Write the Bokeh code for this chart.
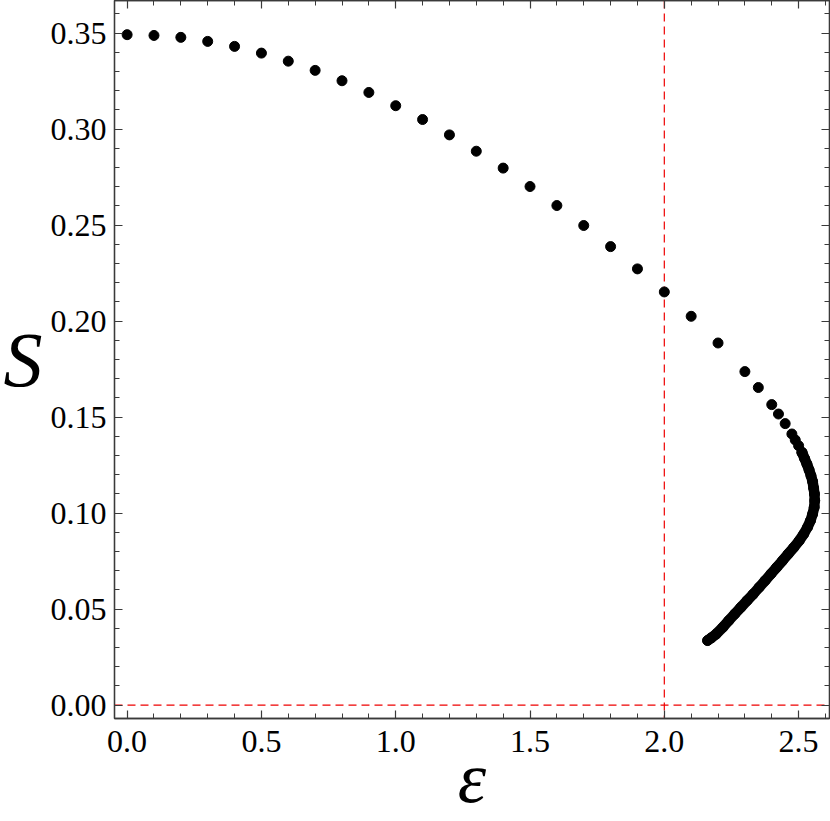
from bokeh.plotting import figure
from bokeh.models import Range1d, LinearAxis, SingleIntervalTicker, Span, NumeralTickFormatter
from bokeh.embed import file_html
from bokeh.resources import INLINE

# sparse branch (epsilon, S)
eps_sparse = [0.0, 0.1, 0.2, 0.3, 0.4, 0.5, 0.6, 0.7, 0.8, 0.9, 1.0,
              1.1, 1.2, 1.3, 1.4, 1.5, 1.6, 1.7, 1.8, 1.9, 2.0,
              2.1, 2.2, 2.3, 2.35, 2.4, 2.425, 2.45, 2.475, 2.4875, 2.5, 2.5125]
S_sparse = [0.3492, 0.3488, 0.3478, 0.3457, 0.3431, 0.3396, 0.3354, 0.3306, 0.3252, 0.3191, 0.3122,
            0.3050, 0.2970, 0.2885, 0.2797, 0.2701, 0.2602, 0.2498, 0.2388, 0.2272, 0.2152,
            0.2025, 0.1886, 0.1737, 0.1654, 0.1565, 0.1516, 0.1466, 0.1412, 0.1381, 0.1351, 0.1316]

# dense branch (band of closely spaced points)
eps_dense = [2.5125, 2.522, 2.531, 2.539, 2.546, 2.552, 2.556, 2.559, 2.560, 2.558, 2.552,
             2.544, 2.533, 2.519, 2.502, 2.482, 2.461, 2.440, 2.418, 2.397, 2.375, 2.353,
             2.331, 2.308, 2.285, 2.262, 2.240, 2.218, 2.193, 2.175, 2.161]
S_dense = [0.1316, 0.1285, 0.1255, 0.1225, 0.1195, 0.1165, 0.1130, 0.1100, 0.1065, 0.1030, 0.0995,
           0.0960, 0.0926, 0.0891, 0.0856, 0.0821, 0.0787, 0.0752, 0.0717, 0.0683, 0.0648, 0.0613,
           0.0578, 0.0544, 0.0509, 0.0474, 0.0440, 0.0405, 0.0370, 0.0350, 0.0336]

eps_critical = 2.0
S_zero = 0.0

FONT = "Liberation Serif"
AX = "#3a3a3a"

p = figure(width=830, height=821, output_backend="svg", toolbar_location=None,
           x_range=Range1d(-0.047, 2.615), y_range=Range1d(-0.007, 0.367),
           x_axis_type=None, y_axis_type=None,
           min_border_left=113, min_border_right=1, min_border_top=0, min_border_bottom=103)
p.grid.visible = False
p.outline_line_color = AX
p.outline_line_width = 1.3
p.background_fill_color = "white"
p.border_fill_color = "white"

xt = SingleIntervalTicker(interval=0.5, num_minor_ticks=5)
yt = SingleIntervalTicker(interval=0.05, num_minor_ticks=5)


def mk_axis(ticker, labels):
    ax = LinearAxis(ticker=ticker, major_tick_in=8, major_tick_out=0,
                    minor_tick_in=5, minor_tick_out=0,
                    axis_line_color=AX, axis_line_width=1.3,
                    major_tick_line_color=AX, minor_tick_line_color=AX,
                    major_tick_line_width=1.2, minor_tick_line_width=1.0)
    if labels:
        ax.major_label_text_font = FONT
        ax.major_label_text_font_size = "32px"
        ax.major_label_text_color = "black"
    else:
        ax.major_label_text_color = None
        ax.major_label_text_font_size = "1px"
        ax.major_label_standoff = 0
    return ax


xb = mk_axis(xt, True)
xb.major_label_standoff = 12
xb.formatter = NumeralTickFormatter(format="0.0")
xb.axis_label = "ε"
xb.axis_label_text_font = FONT
xb.axis_label_text_font_style = "italic"
xb.axis_label_text_font_size = "72px"
xb.axis_label_text_color = "black"
xb.axis_label_text_line_height = 0.7
xb.axis_label_standoff = -17

yl = mk_axis(yt, True)
yl.major_label_standoff = 8
yl.formatter = NumeralTickFormatter(format="0.00")
yl.axis_label = "S"
yl.axis_label_orientation = "horizontal"
yl.axis_label_text_font = FONT
yl.axis_label_text_font_style = "italic"
yl.axis_label_text_font_size = "78px"
yl.axis_label_text_color = "black"
yl.axis_label_standoff = 5

p.add_layout(xb, "below")
p.add_layout(yl, "left")
p.add_layout(mk_axis(xt, False), "above")
p.add_layout(mk_axis(yt, False), "right")

p.add_layout(Span(location=eps_critical, dimension="height", line_color="#ee0000",
                  line_dash="8 5", line_width=1.2, level="underlay"))
p.add_layout(Span(location=S_zero, dimension="width", line_color="#ee0000",
                  line_dash="8 5", line_width=1.2, level="underlay"))

p.line(eps_dense, S_dense, line_width=10.5, line_cap="round", line_join="round", color="black")
p.scatter(eps_dense, S_dense, size=10, color="black")
p.scatter(eps_sparse, S_sparse, size=10, color="black")

open("out.html", "w").write(file_html(p, INLINE))
